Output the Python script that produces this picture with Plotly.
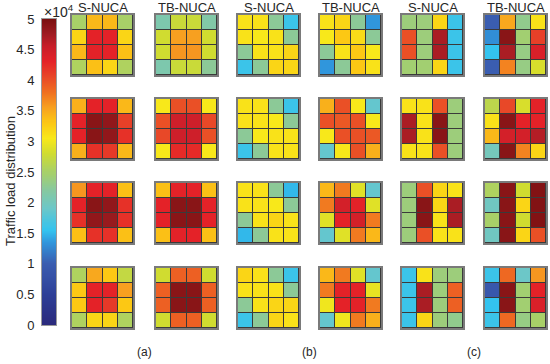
import numpy as np
import plotly.graph_objects as go

# ---------------- data (traffic load per bank, 4x4 grids, rows top->bottom) ----------------
TITLES = ["S-NUCA", "TB-NUCA", "S-NUCA", "TB-NUCA", "S-NUCA", "TB-NUCA"]
GROUP_LABELS = ["(a)", "(b)", "(c)"]
CBAR_TICKS = [0, 5000, 10000, 15000, 20000, 25000, 30000, 35000, 40000, 45000, 50000]
CBAR_TICKTEXT = ["0", "0.5", "1", "1.5", "2", "2.5", "3", "3.5", "4", "4.5", "5"]

S_NUCA_A = [
    [[25000, 34000, 34000, 25000], [32000, 43000, 43000, 32000], [34000, 43000, 43000, 33500], [25500, 33500, 32000, 25500]],
    [[34500, 43000, 43000, 34000], [43000, 49000, 48500, 41000], [43000, 49000, 48500, 42000], [34500, 42000, 41500, 34000]],
    [[36000, 43000, 43000, 33500], [43000, 49000, 48500, 42000], [42000, 48500, 48000, 42000], [33500, 42000, 42000, 33500]],
    [[25500, 35000, 33000, 27000], [33000, 43000, 43000, 35500], [33000, 43000, 41500, 33000], [25500, 32000, 32000, 25500]],
]
TB_NUCA_A = [
    [[21000, 27500, 27500, 21500], [28000, 35500, 35500, 28000], [28000, 36000, 36000, 28000], [21000, 27500, 27500, 22500]],
    [[30500, 40000, 40000, 30500], [40000, 45000, 45000, 40500], [40500, 45000, 45000, 40000], [30500, 42500, 42500, 30500]],
    [[33500, 43000, 43000, 33500], [43000, 49000, 49000, 43000], [43000, 49000, 49000, 43000], [33500, 43000, 43000, 33500]],
    [[28000, 39000, 39000, 28000], [39000, 49000, 49000, 39000], [39000, 49000, 49000, 39000], [28000, 39000, 39000, 28000]],
]
S_NUCA_B = [
    [[31000, 31000, 22500, 16000], [31000, 30500, 31000, 22500], [22500, 31000, 31000, 32000], [16000, 22500, 32000, 32000]],
    [[31000, 31000, 22500, 16000], [31000, 31000, 30500, 22500], [22500, 30500, 31000, 31000], [16000, 22500, 31000, 31000]],
    [[31000, 31000, 22500, 15000], [31000, 31000, 30500, 22500], [22500, 31000, 32000, 31000], [15000, 22500, 31000, 31000]],
    [[32000, 31000, 22500, 16000], [31000, 31000, 31000, 22500], [22500, 31000, 32000, 32000], [16000, 22500, 32000, 31000]],
]
TB_NUCA_B = [
    [[31000, 32000, 22500, 13500], [30500, 33000, 31500, 22500], [22500, 31000, 33000, 30500], [13500, 22500, 33000, 31000]],
    [[34500, 40000, 30500, 18500], [40000, 39500, 40000, 30500], [30500, 40000, 40000, 39500], [18500, 30500, 40000, 34500]],
    [[34000, 37500, 29000, 18500], [37500, 44500, 43000, 29000], [29000, 43000, 44500, 37500], [18500, 29000, 37500, 34000]],
    [[34000, 37500, 29000, 18500], [37500, 43000, 43000, 29500], [30000, 43000, 43000, 37500], [18500, 30000, 37500, 34500]],
]
S_NUCA_C = [
    [[24000, 24000, 32000, 16000], [40000, 24000, 47000, 16000], [40000, 24000, 47000, 16000], [24500, 24500, 32000, 16000]],
    [[31000, 31000, 40000, 24000], [47000, 31000, 49000, 24000], [47000, 31000, 49000, 24000], [31000, 31000, 40000, 24000]],
    [[24000, 40000, 32000, 31000], [24000, 49000, 32000, 47000], [24000, 49000, 31000, 47000], [24000, 40000, 31000, 31000]],
    [[16000, 31000, 24000, 24000], [16000, 47000, 24000, 39000], [16000, 47000, 24000, 39000], [16000, 32000, 24000, 23000]],
]
TB_NUCA_C = [
    [[10000, 35000, 23000, 31000], [13000, 49000, 24500, 41000], [15500, 47000, 23500, 44000], [10000, 37000, 23500, 28500]],
    [[26500, 40500, 28500, 43000], [31000, 49000, 43000, 43000], [34000, 44500, 44500, 46500], [20000, 49000, 37000, 32000]],
    [[25500, 49000, 28000, 49500], [19500, 49000, 32000, 49500], [25000, 49000, 28000, 49500], [19500, 49000, 32000, 40000]],
    [[16000, 38500, 19000, 36000], [9000, 49000, 24500, 43000], [15500, 49000, 24500, 44000], [16000, 38500, 23500, 25000]],
]

# ---------------- styling ----------------
W, H = 550, 364
FONT = "Liberation Sans, Arial, sans-serif"
TXT = "#262626"
CSCALE = [
    [0.00, "#2b2a7c"], [0.10, "#2e3f97"], [0.20, "#3a5db0"], [0.27, "#3096dc"],
    [0.31, "#33c3ef"], [0.38, "#6cc7c8"], [0.44, "#86c8a0"], [0.50, "#a8d068"],
    [0.56, "#d0dc30"], [0.61, "#f8e81a"], [0.66, "#fcc814"], [0.71, "#f7a020"],
    [0.76, "#f07020"], [0.81, "#e84828"], [0.86, "#e42228"], [0.91, "#c81e2a"],
    [0.95, "#a01c22"], [1.00, "#7a1010"],
]
COL_LEFT = [72, 156, 238, 320, 402, 485]
ROW_TOP = [15, 99, 183, 268]
CW, CH = 61, 60
CB_L, CB_R, CB_T, CB_B = 42, 56, 19, 325

fig = go.Figure()
layout = dict(
    width=W, height=H, margin=dict(l=0, r=0, t=0, b=0, autoexpand=False),
    paper_bgcolor="white", plot_bgcolor="#3a3a3a", showlegend=False,
    font=dict(family=FONT, color=TXT),
)

all_maps = [S_NUCA_A, TB_NUCA_A, S_NUCA_B, TB_NUCA_B, S_NUCA_C, TB_NUCA_C]
k = 0
for c, series in enumerate(all_maps):
    for r, z in enumerate(series):
        k += 1
        sfx = "" if k == 1 else str(k)
        fig.add_trace(go.Heatmap(
            z=z, x=[0, 1, 2, 3], y=[0, 1, 2, 3], xaxis="x" + sfx, yaxis="y" + sfx,
            colorscale=CSCALE, zmin=0, zmax=50000, showscale=False,
            xgap=1, ygap=1, hoverinfo="skip",
        ))
        l, t = COL_LEFT[c], ROW_TOP[r]
        layout["xaxis" + sfx] = dict(
            domain=[l / W, (l + CW) / W], anchor="y" + sfx, range=[-0.5, 3.5],
            showticklabels=False, ticks="", showgrid=False, zeroline=False, automargin=False,
            showline=True, mirror=True, linecolor="#7a7a7a", linewidth=1.5, fixedrange=True,
        )
        layout["yaxis" + sfx] = dict(
            domain=[1 - (t + CH) / H, 1 - t / H], anchor="x" + sfx, range=[3.5, -0.5],
            showticklabels=False, ticks="", showgrid=False, zeroline=False, automargin=False,
            showline=True, mirror=True, linecolor="#7a7a7a", linewidth=1.5, fixedrange=True,
        )

# colour bar drawn as its own axis so labels sit on the left
k += 1
sfx = str(k)
levels = np.linspace(0, 50000, 301)
fig.add_trace(go.Heatmap(
    z=[[v] for v in levels], x=[0], y=levels, xaxis="x" + sfx, yaxis="y" + sfx,
    colorscale=CSCALE, zmin=0, zmax=50000, showscale=False, hoverinfo="skip",
))
layout["xaxis" + sfx] = dict(
    domain=[CB_L / W, CB_R / W], anchor="y" + sfx, range=[-0.5, 0.5], automargin=False,
    showticklabels=False, ticks="", showgrid=False, zeroline=False, fixedrange=True,
    showline=True, mirror=True, linecolor="#9a9a9a", linewidth=1,
)
layout["yaxis" + sfx] = dict(
    domain=[1 - CB_B / H, 1 - CB_T / H], anchor="x" + sfx, range=[0, 50000], automargin=False,
    tickvals=CBAR_TICKS, ticktext=CBAR_TICKTEXT, ticks="", side="left", fixedrange=True,
    tickfont=dict(size=13, color=TXT, family=FONT), ticklabelstandoff=4,
    showgrid=False, zeroline=False, showline=True, mirror=True,
    linecolor="#9a9a9a", linewidth=1,
)

ann = []
for c, title in enumerate(TITLES):
    ann.append(dict(text=title, x=(COL_LEFT[c] + CW / 2) / W, y=1 - 7 / H, xref="paper", yref="paper",
                    xanchor="center", yanchor="middle", showarrow=False,
                    font=dict(size=13, color=TXT, family=FONT)))
for g, lab in enumerate(GROUP_LABELS):
    xc = (COL_LEFT[2 * g] + CW + COL_LEFT[2 * g + 1]) / 2
    ann.append(dict(text=lab, x=xc / W, y=1 - 352 / H, xref="paper", yref="paper",
                    xanchor="center", yanchor="middle", showarrow=False,
                    font=dict(size=12, color=TXT, family=FONT)))
ann.append(dict(text="Traffic load distribution", x=10 / W, y=1 - 181 / H, xref="paper", yref="paper",
                xanchor="center", yanchor="middle", textangle=-90, showarrow=False,
                font=dict(size=13, color=TXT, family=FONT)))
ann.append(dict(text="×10<sup>4</sup>", x=42 / W, y=1 - 11 / H, xref="paper", yref="paper",
                xanchor="left", yanchor="middle", showarrow=False,
                font=dict(size=14, color=TXT, family=FONT)))
layout["annotations"] = ann

fig.update_layout(**layout)
fig.write_html("out.html", config={"displayModeBar": False},
               post_script="document.body.style.margin='0';document.body.style.overflow='hidden';")
